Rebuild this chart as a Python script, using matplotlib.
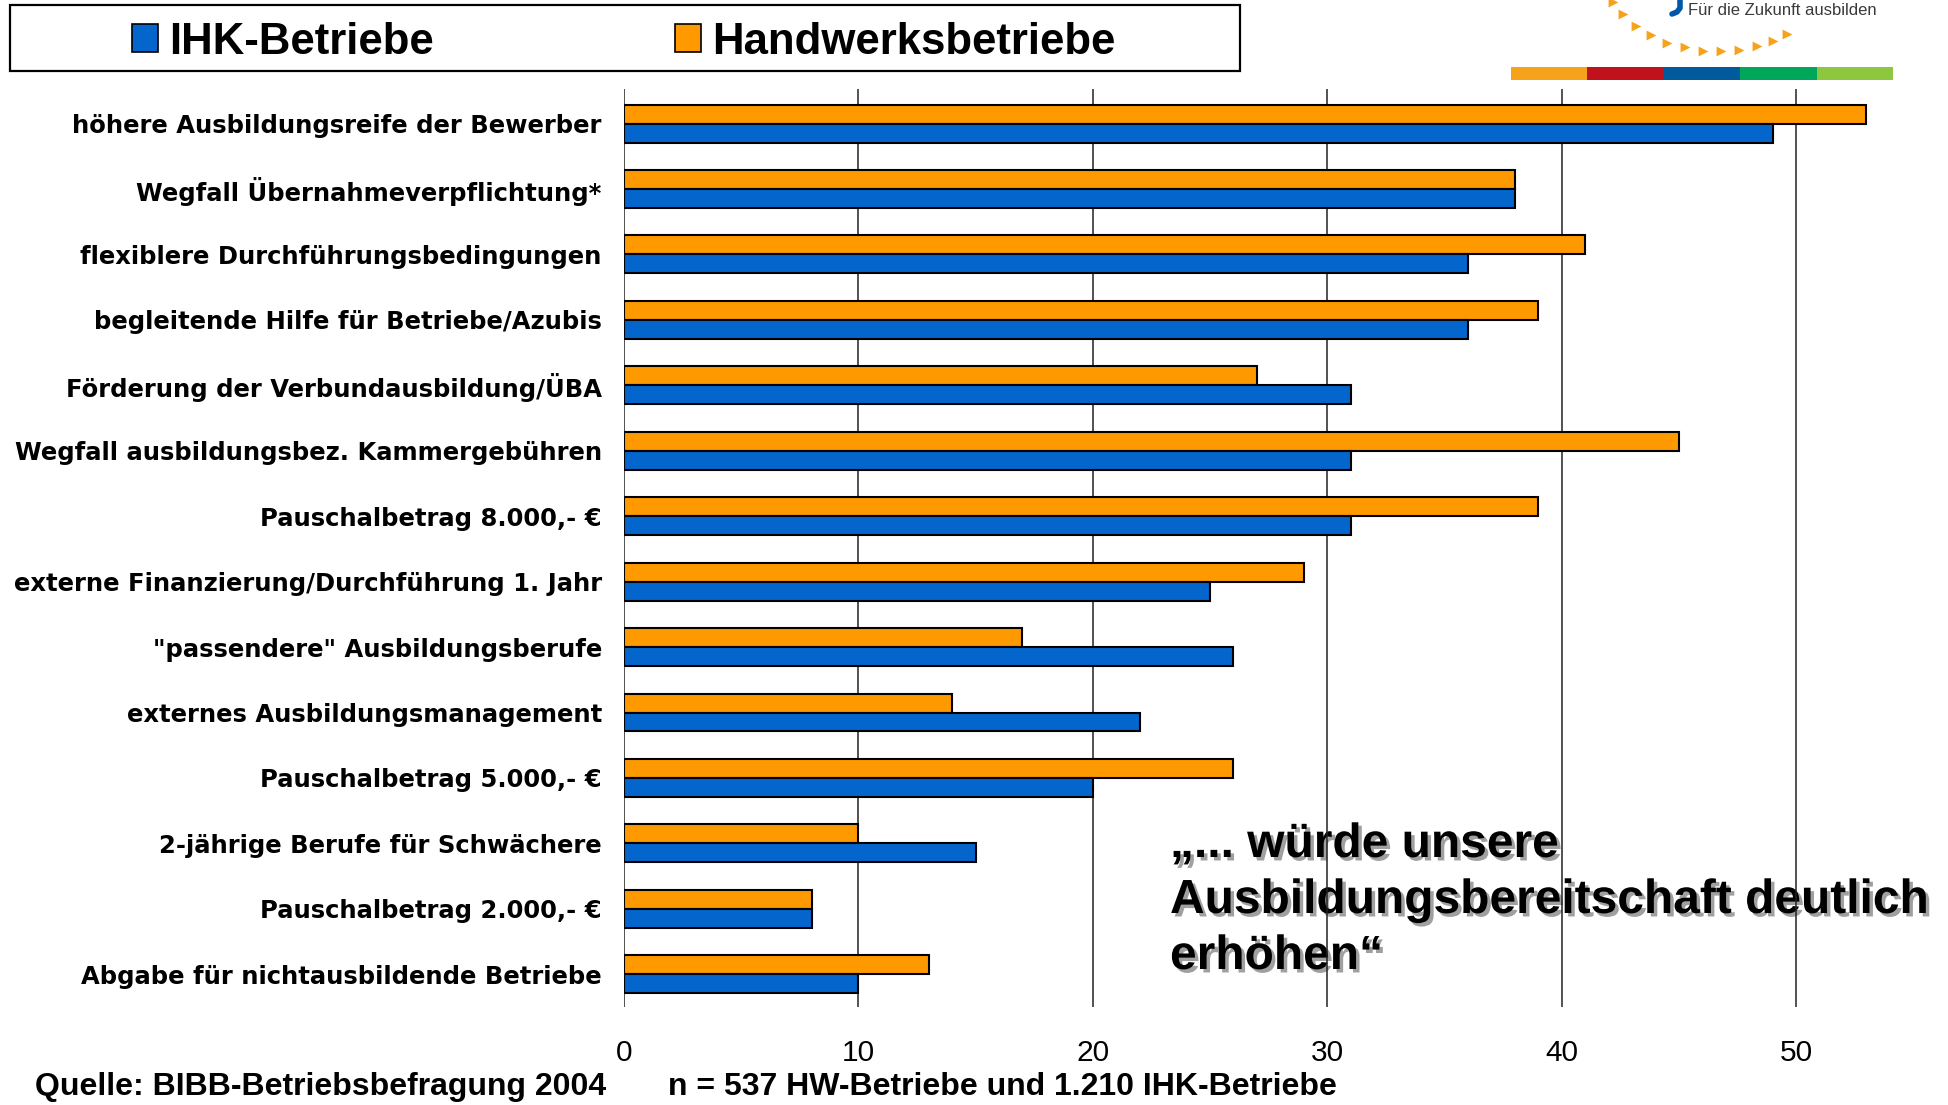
import numpy as np
import matplotlib
matplotlib.use('Agg')
import matplotlib.pyplot as plt
from matplotlib.patches import Patch, Rectangle
import matplotlib.patheffects as pe

# daten (Prozent der Betriebe)
kategorien = [
    'höhere Ausbildungsreife der Bewerber',
    'Wegfall Übernahmeverpflichtung*',
    'flexiblere Durchführungsbedingungen',
    'begleitende Hilfe für Betriebe/Azubis',
    'Förderung der Verbundausbildung/ÜBA',
    'Wegfall ausbildungsbez. Kammergebühren',
    'Pauschalbetrag 8.000,- €',
    'externe Finanzierung/Durchführung 1. Jahr',
    '"passendere" Ausbildungsberufe',
    'externes Ausbildungsmanagement',
    'Pauschalbetrag 5.000,- €',
    '2-jährige Berufe für Schwächere',
    'Pauschalbetrag 2.000,- €',
    'Abgabe für nichtausbildende Betriebe',
]
ihk = [49, 38, 36, 36, 31, 31, 31, 25, 26, 22, 20, 15, 8, 10]
handwerk = [53, 38, 41, 39, 27, 45, 39, 29, 17, 14, 26, 10, 8, 13]
x_ticks = [0, 10, 20, 30, 40, 50]
zitat = ['„... würde unsere', 'Ausbildungsbereitschaft deutlich', 'erhöhen“']

blau = '#0466CC'
orange = '#FF9900'
W, H = 1948, 1105

fig = plt.figure(figsize=(W / 100, H / 100), dpi=100)

# hintergrund-achse in pixelkoordinaten fuer deko und texte
bg = fig.add_axes([0, 0, 1, 1])
bg.set_xlim(0, W)
bg.set_ylim(H, 0)
bg.axis('off')

ax = fig.add_axes([624 / W, 1 - 1007 / H, (55 * 23.44) / W, (1007 - 89.5) / H])
y = np.arange(len(kategorien))
h = 0.29
ax.barh(y - h / 2, handwerk, height=h, color=orange, edgecolor='black', linewidth=1.5, zorder=3)
ax.barh(y + h / 2, ihk, height=h, color=blau, edgecolor='black', linewidth=1.5, zorder=3)
ax.set_xlim(0, 55)
ax.set_ylim(13.5, -0.52)
ax.set_xticks(x_ticks)
ax.set_xticklabels([str(t) for t in x_ticks], fontsize=21.5, family='Liberation Sans')
ax.set_yticks(y)
ax.set_yticklabels(kategorien, fontsize=17.5, fontweight='bold', family='DejaVu Sans')
ax.tick_params(axis='x', length=0, pad=23)
ax.tick_params(axis='y', length=0, pad=16)
ax.grid(axis='x', color='#222222', linewidth=1.1, zorder=0)
ax.set_axisbelow(True)
for s in ax.spines.values():
    s.set_visible(False)
ax.patch.set_alpha(0)

# legende mit rahmen
bg.add_patch(Rectangle((10, 5), 1230, 66, fill=False, edgecolor='black', linewidth=1.6))
handles = [Patch(facecolor=blau, edgecolor='black', linewidth=1.2, label='IHK-Betriebe'),
           Patch(facecolor=orange, edgecolor='black', linewidth=1.2, label='Handwerksbetriebe')]
fig.legend(handles=handles, loc='center left', bbox_to_anchor=(132 / W, 1 - 42 / H),
           ncol=2, frameon=False, borderpad=0, borderaxespad=0,
           handlelength=0.6, handleheight=0.6, handletextpad=0.25, columnspacing=5.5,
           prop={'family': 'Liberation Sans', 'weight': 'bold', 'size': 31.5})

# logo oben rechts
streifen = ['#F7A21B', '#C0121C', '#005A9C', '#00A65A', '#8DC63F']
for i, c in enumerate(streifen):
    bg.add_patch(Rectangle((1511 + i * 76.4, 67), 76.4, 13, color=c, lw=0))
bg.text(1688, 15, 'Für die Zukunft ausbilden', fontsize=12, color='#3a3a3a',
        family='Liberation Sans', va='baseline', ha='left')
bg.plot([1680, 1680, 1677, 1672], [-2, 8, 12, 14], color='#0057A8', lw=4, solid_capstyle='round')
bx = [1613, 1623, 1636, 1651, 1667, 1685, 1703, 1721, 1739, 1757, 1773, 1787]
by = [2, 14, 26, 35, 43, 47, 51, 51, 50, 46, 41, 34]
bg.scatter(bx, by, marker='>', s=50, color='#F7A21B', lw=0)

# zitat (liegt unter den gitterlinien wie im original)
schatten = [pe.SimplePatchShadow(offset=(2.5, -2.5), shadow_rgbFace='#888888', alpha=0.8), pe.Normal()]
for i, zeile in enumerate(zitat):
    bg.text(1170, 857 + i * 56, zeile, fontsize=34.5, fontweight='bold', family='Liberation Sans',
            va='baseline', ha='left', path_effects=schatten)

# fusszeile
bg.text(35, 1095, 'Quelle: BIBB-Betriebsbefragung 2004', fontsize=23, fontweight='bold',
        family='Liberation Sans', va='baseline')
bg.text(668, 1095, 'n = 537 HW-Betriebe und 1.210 IHK-Betriebe', fontsize=23, fontweight='bold',
        family='Liberation Sans', va='baseline')

fig.savefig('out.png', dpi=100)
